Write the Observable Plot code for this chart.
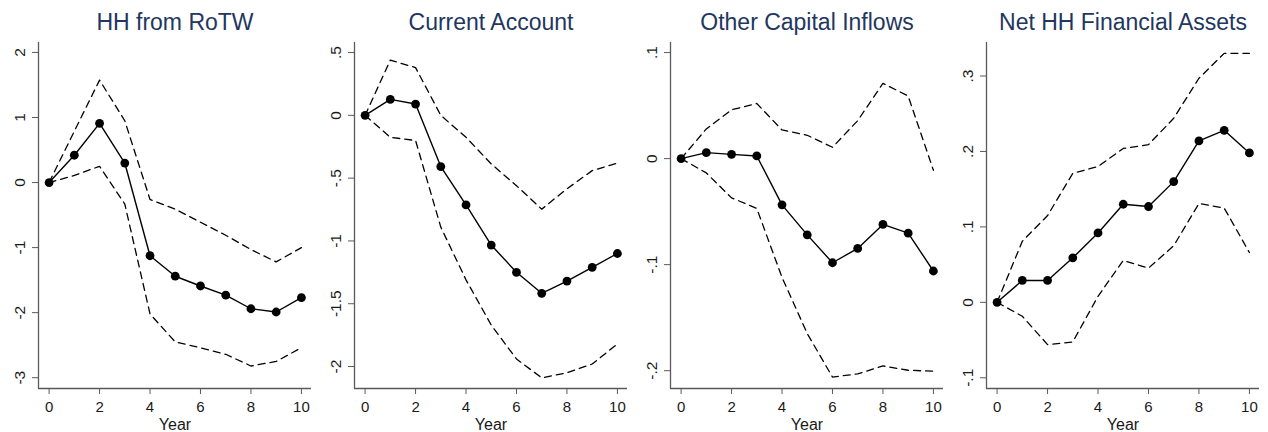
<!DOCTYPE html>
<html>
<head>
<meta charset="utf-8">
<script src="https://cdn.jsdelivr.net/npm/d3@7"></script>
<script src="https://cdn.jsdelivr.net/npm/@observablehq/plot@0.6"></script>
<style>
  html, body { margin: 0; padding: 0; background: #fff; }
  #chart { position: relative; width: 1268px; height: 432px; overflow: hidden; font-family: "Liberation Sans", Arial, sans-serif; }
  #chart svg { position: absolute; top: 0; }
</style>
</head>
<body>
<div id="chart"></div>
<script>
// Impulse responses over a ten-year horizon: point estimates with confidence bands
const years = [0, 1, 2, 3, 4, 5, 6, 7, 8, 9, 10];

const titles = ["HH from RoTW", "Current Account", "Other Capital Inflows", "Net HH Financial Assets"];

const hhRotwMean  = [0, 0.42, 0.91, 0.30, -1.125, -1.44, -1.59, -1.73, -1.94, -1.99, -1.77];
const hhRotwUpper = [0, 0.79, 1.575, 0.95, -0.26, -0.41, -0.61, -0.81, -1.03, -1.22, -1.0];
const hhRotwLower = [0, 0.11, 0.25, -0.33, -2.02, -2.45, -2.54, -2.64, -2.82, -2.75, -2.54];

const caMean  = [0, 0.127, 0.09, -0.408, -0.713, -1.033, -1.25, -1.417, -1.32, -1.21, -1.10];
const caUpper = [0, 0.44, 0.38, 0.0, -0.175, -0.387, -0.56, -0.747, -0.585, -0.44, -0.38];
const caLower = [0, -0.175, -0.2, -0.89, -1.31, -1.67, -1.94, -2.09, -2.05, -1.98, -1.82];

const ociMean  = [0, 0.0056, 0.004, 0.0025, -0.0436, -0.0719, -0.0982, -0.0847, -0.0621, -0.0703, -0.106];
const ociUpper = [0, 0.028, 0.046, 0.052, 0.027, 0.022, 0.0107, 0.0358, 0.071, 0.059, -0.011];
const ociLower = [0, -0.0135, -0.037, -0.047, -0.112, -0.165, -0.206, -0.203, -0.1955, -0.1996, -0.2005];

const nfaMean  = [0, 0.029, 0.029, 0.059, 0.092, 0.130, 0.127, 0.160, 0.214, 0.228, 0.198];
const nfaUpper = [0, 0.081, 0.115, 0.171, 0.180, 0.204, 0.209, 0.244, 0.297, 0.330, 0.330];
const nfaLower = [0, -0.0185, -0.056, -0.0525, 0.008, 0.0556, 0.0454, 0.075, 0.131, 0.125, 0.066];

const xTicks = [0, 2, 4, 6, 8, 10];
const hhRotwTicks = [-3, -2, -1, 0, 1, 2];
const caTicks = [-2, -1.5, -1, -0.5, 0, 0.5];
const ociTicks = [-0.2, -0.1, 0, 0.1];
const nfaTicks = [-0.1, 0, 0.1, 0.2, 0.3];

const xLabel = "Year";

// Stata-style numbers: ".5", "-.5", "0"
const fmt = d => String(+d.toFixed(4)).replace("0.", ".");

const panels = [
  {title: titles[0], mean: hhRotwMean, upper: hhRotwUpper, lower: hhRotwLower, ticks: hhRotwTicks, domain: [-3.166, 2.153], left: 0,   ml: 38},
  {title: titles[1], mean: caMean,     upper: caUpper,     lower: caLower,     ticks: caTicks,     domain: [-2.175, 0.58],  left: 316, ml: 38},
  {title: titles[2], mean: ociMean,    upper: ociUpper,    lower: ociLower,    ticks: ociTicks,    domain: [-0.2168, 0.1095], left: 633, ml: 37},
  {title: titles[3], mean: nfaMean,    upper: nfaUpper,    lower: nfaLower,    ticks: nfaTicks,    domain: [-0.1142, 0.3444], left: 949, ml: 37}
];

const W = 318, H = 432;
const xDomain = [-0.42, 10.4];
const axisGray = "#5a5a5a";
const textColor = "#1a1a1a";

const chart = document.getElementById("chart");

for (const p of panels) {
  const rows = years.map((yr, i) => ({year: yr, mean: p.mean[i], upper: p.upper[i], lower: p.lower[i]}));
  const plot = Plot.plot({
    width: W,
    height: H,
    marginLeft: p.ml,
    marginRight: W - p.ml - 273,
    marginTop: 42,
    marginBottom: 44,
    style: {fontFamily: "'Liberation Sans', Arial, sans-serif", fontSize: "15px", background: "white", color: textColor},
    x: {domain: xDomain},
    y: {domain: p.domain},
    marks: [
      Plot.axisX({ticks: xTicks, tickSize: 6, tickPadding: 7, tickFormat: d => String(d), label: null, stroke: axisGray, fill: textColor, fontSize: 15}),
      Plot.axisY({ticks: p.ticks, tickSize: 6, tickPadding: 8, tickRotate: -90, tickFormat: fmt, label: null, stroke: axisGray, fill: textColor, fontSize: 15.5}),
      Plot.ruleX([xDomain[0]], {stroke: axisGray, strokeWidth: 1.3}),
      Plot.ruleY([p.domain[0]], {stroke: axisGray, strokeWidth: 1.3}),
      Plot.line(rows, {x: "year", y: "upper", stroke: "black", strokeWidth: 1.3, strokeDasharray: "7,5"}),
      Plot.line(rows, {x: "year", y: "lower", stroke: "black", strokeWidth: 1.3, strokeDasharray: "7,5"}),
      Plot.line(rows, {x: "year", y: "mean", stroke: "black", strokeWidth: 1.4}),
      Plot.dot(rows, {x: "year", y: "mean", r: 4.4, fill: "black", stroke: "none"}),
      Plot.text([p.title], {text: d => d, frameAnchor: "top", lineAnchor: "bottom", dy: -12.5, fontSize: 23, fill: "#22375e"}),
      Plot.text([xLabel], {text: d => d, frameAnchor: "bottom", lineAnchor: "top", dy: 30.5, fontSize: 16, fill: textColor})
    ]
  });
  plot.style.left = p.left + "px";
  chart.appendChild(plot);
}
</script>
</body>
</html>
